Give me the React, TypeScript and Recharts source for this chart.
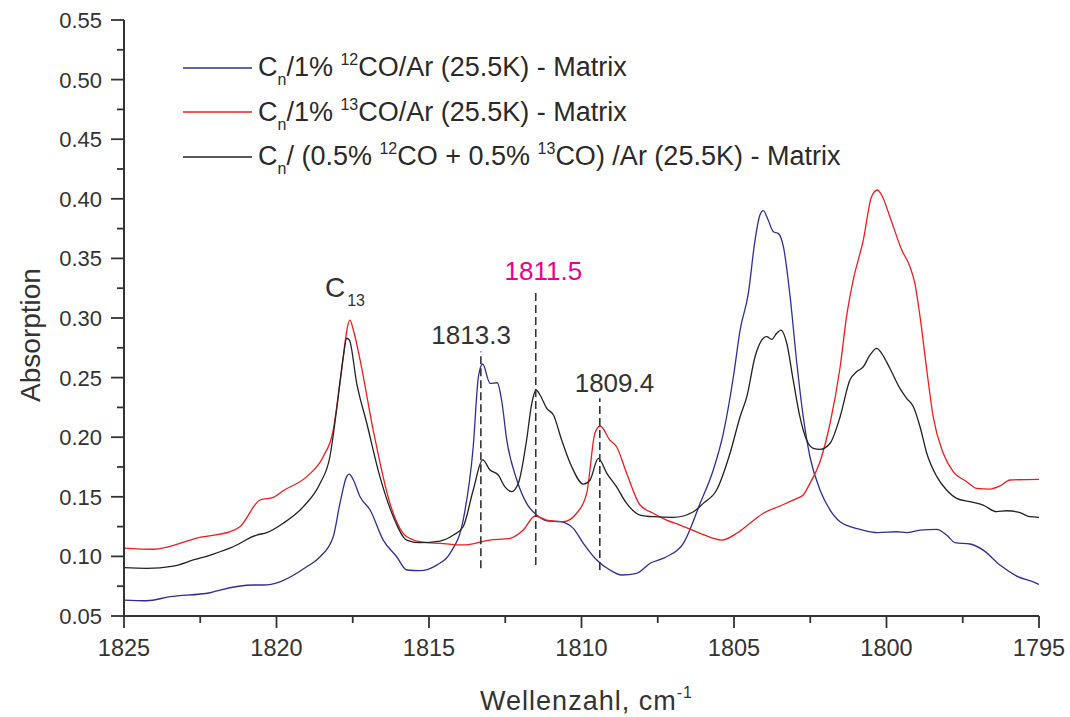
import React from 'react';
import { LineChart, Line, XAxis, YAxis, ReferenceLine, ReferenceDot, Legend, Label } from 'recharts';

const FONT = '"Liberation Sans", Arial, Helvetica, sans-serif';
const INK = '#333333';

// Absorption spectra: [wavenumber (cm^-1), absorbance]
const spectrum12CO: [number, number][] = [
  [1825.0, 0.0634], [1824.26, 0.0628], [1823.49, 0.0662], [1822.18, 0.0695], [1821.85, 0.0718],
  [1820.76, 0.076], [1820.43, 0.076], [1819.89, 0.0787], [1819.01, 0.0913], [1818.57, 0.0997],
  [1818.14, 0.1165], [1817.92, 0.1445], [1817.7, 0.1669], [1817.61, 0.1691], [1817.48, 0.1641],
  [1817.26, 0.15], [1816.93, 0.1389], [1816.5, 0.1137], [1816.06, 0.0997], [1815.73, 0.0886],
  [1815.3, 0.088], [1814.75, 0.0927], [1814.31, 0.1026], [1813.88, 0.1305], [1813.55, 0.192],
  [1813.38, 0.2507], [1813.24, 0.2614], [1813.0, 0.2452], [1812.76, 0.2457], [1812.62, 0.2312],
  [1812.45, 0.1976], [1812.12, 0.1641], [1811.8, 0.1445], [1811.47, 0.1347], [1811.14, 0.1299],
  [1810.7, 0.1291], [1810.27, 0.1235], [1809.94, 0.111], [1809.5, 0.097], [1809.07, 0.0886],
  [1808.68, 0.0844], [1808.19, 0.0858], [1807.75, 0.0942], [1807.21, 0.0997], [1806.66, 0.111],
  [1806.11, 0.1445], [1805.68, 0.1725], [1805.35, 0.2033], [1805.02, 0.2507], [1804.8, 0.2899],
  [1804.53, 0.3207], [1804.31, 0.3654], [1804.15, 0.3864], [1804.04, 0.39], [1803.88, 0.3822],
  [1803.71, 0.3724], [1803.55, 0.371], [1803.38, 0.3598], [1803.16, 0.3179], [1802.94, 0.262],
  [1802.73, 0.2172], [1802.51, 0.1836], [1802.18, 0.1557], [1801.85, 0.1389], [1801.52, 0.1291],
  [1800.87, 0.1227], [1800.27, 0.1199], [1799.67, 0.1207], [1799.34, 0.1199], [1798.9, 0.1221],
  [1798.35, 0.1227], [1798.03, 0.1179], [1797.75, 0.1115], [1797.26, 0.1104], [1796.83, 0.1053],
  [1796.28, 0.0927], [1795.73, 0.0835], [1795.08, 0.0774], [1795.0, 0.0764],
];

const spectrum13CO: [number, number][] = [
  [1825.0, 0.107], [1824.04, 0.106], [1822.51, 0.116], [1821.52, 0.1207], [1821.2, 0.1249],
  [1820.54, 0.1473], [1820.1, 0.1496], [1819.78, 0.1551], [1819.01, 0.1669], [1818.47, 0.1836],
  [1818.14, 0.206], [1817.92, 0.2455], [1817.59, 0.2983], [1817.48, 0.2899], [1817.26, 0.2648],
  [1816.83, 0.206], [1816.28, 0.1445], [1815.73, 0.1165], [1815.08, 0.1115], [1814.64, 0.111],
  [1813.88, 0.1096], [1813.0, 0.1137], [1812.34, 0.1152], [1811.91, 0.1221], [1811.52, 0.1339],
  [1811.14, 0.1305], [1810.6, 0.1291], [1810.16, 0.1362], [1809.83, 0.1529], [1809.56, 0.2033],
  [1809.39, 0.2094], [1809.07, 0.1976], [1808.85, 0.192], [1808.52, 0.1697], [1808.08, 0.1431],
  [1807.65, 0.1362], [1807.21, 0.1305], [1806.77, 0.1263], [1806.11, 0.1194], [1805.4, 0.1137],
  [1804.91, 0.1194], [1804.48, 0.1278], [1804.04, 0.1362], [1803.49, 0.1423], [1802.94, 0.1487],
  [1802.73, 0.1515], [1802.51, 0.1613], [1802.18, 0.1794], [1801.85, 0.2117], [1801.52, 0.2589],
  [1801.31, 0.3011], [1801.09, 0.3319], [1800.76, 0.3654], [1800.49, 0.4018], [1800.3, 0.4074],
  [1800.16, 0.4032], [1799.89, 0.385], [1799.5, 0.357], [1799.23, 0.343], [1799.07, 0.3291],
  [1798.9, 0.3011], [1798.68, 0.2564], [1798.47, 0.2172], [1798.14, 0.1865], [1797.81, 0.171],
  [1797.37, 0.1627], [1797.04, 0.1571], [1796.61, 0.1565], [1796.28, 0.1591], [1795.95, 0.1641],
  [1795.0, 0.1647],
];

const spectrumMixed: [number, number][] = [
  [1825.0, 0.0905], [1824.26, 0.09], [1823.38, 0.0919], [1822.73, 0.097], [1822.07, 0.102],
  [1821.42, 0.1081], [1820.65, 0.1179], [1820.32, 0.1199], [1819.78, 0.1278], [1819.12, 0.1417],
  [1818.57, 0.1613], [1818.25, 0.1836], [1818.03, 0.2228], [1817.81, 0.2675], [1817.7, 0.283],
  [1817.61, 0.2815], [1817.37, 0.2452], [1817.04, 0.2117], [1816.61, 0.1669], [1816.17, 0.1333],
  [1815.73, 0.1137], [1815.3, 0.1115], [1814.64, 0.1129], [1814.2, 0.1179], [1813.88, 0.1249],
  [1813.55, 0.1557], [1813.24, 0.1809], [1813.0, 0.1725], [1812.73, 0.1683], [1812.51, 0.1583],
  [1812.29, 0.1543], [1812.07, 0.1613], [1811.8, 0.1976], [1811.63, 0.2284], [1811.49, 0.2396],
  [1811.36, 0.2354], [1811.14, 0.2242], [1810.92, 0.2186], [1810.65, 0.1976], [1810.32, 0.1752],
  [1809.94, 0.1607], [1809.72, 0.1641], [1809.45, 0.1823], [1809.17, 0.1697], [1808.85, 0.1583],
  [1808.52, 0.1445], [1808.08, 0.1347], [1807.65, 0.1333], [1806.99, 0.1328], [1806.33, 0.1375],
  [1806.01, 0.1445], [1805.57, 0.1557], [1805.13, 0.1865], [1804.8, 0.2172], [1804.58, 0.234],
  [1804.31, 0.2675], [1804.04, 0.283], [1803.93, 0.2843], [1803.76, 0.2821], [1803.6, 0.2872],
  [1803.46, 0.2899], [1803.27, 0.2788], [1803.06, 0.248], [1802.84, 0.2172], [1802.62, 0.1976],
  [1802.4, 0.1907], [1802.18, 0.1898], [1801.85, 0.1949], [1801.52, 0.2172], [1801.2, 0.248],
  [1800.98, 0.2549], [1800.76, 0.2591], [1800.54, 0.269], [1800.32, 0.2746], [1800.16, 0.2704],
  [1799.89, 0.2578], [1799.56, 0.241], [1799.34, 0.2326], [1799.12, 0.2256], [1798.9, 0.2088],
  [1798.68, 0.1865], [1798.35, 0.1669], [1798.03, 0.1557], [1797.7, 0.1487], [1797.26, 0.1459],
  [1796.83, 0.1431], [1796.39, 0.1375], [1796.06, 0.1383], [1795.62, 0.1367], [1795.3, 0.1333],
  [1795.0, 0.1328],
];

const xTicks = [1825, 1822.5, 1820, 1817.5, 1815, 1812.5, 1810, 1807.5, 1805, 1802.5, 1800, 1797.5, 1795];
const yTicks = [0.05, 0.075, 0.1, 0.125, 0.15, 0.175, 0.2, 0.225, 0.25, 0.275, 0.3, 0.325, 0.35, 0.375, 0.4, 0.425, 0.45, 0.475, 0.5, 0.525, 0.55];

const seriesNames = [
  'Cn/1% 12CO/Ar (25.5K) - Matrix',
  'Cn/1% 13CO/Ar (25.5K) - Matrix',
  'Cn/ (0.5% 12CO + 0.5% 13CO) /Ar (25.5K) - Matrix',
];

// Rich legend text: [text, 'sub' | 'sup' | undefined]
const seriesRichNames: [string, string?][][] = [
  [['C'], ['n', 'sub'], ['/1% '], ['12', 'sup'], ['CO/Ar (25.5K) - Matrix']],
  [['C'], ['n', 'sub'], ['/1% '], ['13', 'sup'], ['CO/Ar (25.5K) - Matrix']],
  [['C'], ['n', 'sub'], ['/ (0.5% '], ['12', 'sup'], ['CO + 0.5% '], ['13', 'sup'], ['CO) /Ar (25.5K) - Matrix']],
];

const seriesColors = ['#2e2e9a', '#f01c1c', '#222222'];

// Peak positions marked with dashed guides: [wavenumber, lower absorbance, upper absorbance]
const peakGuides: [number, number, number][] = [
  [1813.3, 0.09, 0.272],
  [1811.5, 0.0927, 0.322],
  [1809.4, 0.0886, 0.2326],
];

// Peak labels: [text, wavenumber, absorbance at baseline, colour]
const peakLabels: [string, number, number, string][] = [
  ['1813.3', 1813.62, 0.2782, INK],
  ['1811.5', 1811.25, 0.3319, '#EC008C'],
  ['1809.4', 1808.92, 0.2381, INK],
];

const toRows = (pts: [number, number][]) => pts.map(([w, a]) => ({ w, a }));

const isMajorX = (v: number) => Math.abs(v % 5) < 1e-6;
const isMajorY = (v: number) => Math.round(v * 1000) % 50 === 0;

const BottomTick = (props: any) => {
  const { x, y, payload } = props;
  const major = isMajorX(payload.value);
  return (
    <g>
      <line x1={x} x2={x} y1={y} y2={y + (major ? 12 : 7)} stroke={INK} strokeWidth={1.8} />
      {major && (
        <text x={x} y={y + 40} textAnchor="middle" fontFamily={FONT} fontSize={23.5} fill={INK}>
          {payload.value}
        </text>
      )}
    </g>
  );
};

const TopTick = (props: any) => {
  const { x, y } = props;
  return <line x1={x} x2={x} y1={y} y2={y + 5} stroke={INK} strokeWidth={1.6} />;
};

const LeftTick = (props: any) => {
  const { x, y, payload } = props;
  const major = isMajorY(payload.value);
  return (
    <g>
      <line x1={x - (major ? 13 : 7)} x2={x} y1={y} y2={y} stroke={INK} strokeWidth={1.8} />
      {major && (
        <text x={x - 22} y={y + 8} textAnchor="end" fontFamily={FONT} fontSize={22} fill={INK}>
          {payload.value.toFixed(2)}
        </text>
      )}
    </g>
  );
};

const RightTick = (props: any) => {
  const { x, y } = props;
  return <line x1={x - 4} x2={x} y1={y} y2={y} stroke={INK} strokeWidth={1.6} />;
};

const XTitle = (props: any) => {
  const vb = props.viewBox || { x: 124, y: 616, width: 915, height: 101 };
  const cx = vb.x + vb.width / 2 + 5;
  const y = vb.y + 94;
  return (
    <text x={cx} y={y} textAnchor="middle" fontFamily={FONT} fontSize={27} fill={INK} letterSpacing={1}>
      Wellenzahl, cm<tspan dy={-12} fontSize={16}>-1</tspan>
    </text>
  );
};

const YTitle = (props: any) => {
  const vb = props.viewBox || { x: 0, y: 20, width: 124, height: 596 };
  const x = vb.x + 40;
  const y = vb.y + vb.height / 2 + 17;
  return (
    <text x={x} y={y} transform={`rotate(-90 ${x} ${y})`} textAnchor="middle" fontFamily={FONT} fontSize={28} fill={INK}>
      Absorption
    </text>
  );
};

const RichText = ({ parts }: { parts: [string, string?][] }) => (
  <>
    {parts.map(([t, kind], i) => {
      if (kind === 'sub') {
        return (
          <span key={i} style={{ fontSize: 16, position: 'relative', top: 9 }}>{t}</span>
        );
      }
      if (kind === 'sup') {
        return (
          <span key={i} style={{ fontSize: 16, position: 'relative', top: -11 }}>{t}</span>
        );
      }
      return <span key={i}>{t}</span>;
    })}
  </>
);

// Legend rows follow series order, each with its own line swatch.
const LegendBox = () => (
  <div style={{ fontFamily: FONT }}>
    {seriesNames.map((name, idx) => (
      <div key={name} style={{ display: 'flex', alignItems: 'center', height: 44.5 }}>
        <svg width={69} height={4} style={{ marginRight: 6, display: 'block' }}>
          <line x1={0} x2={69} y1={2} y2={2} stroke={seriesColors[idx]} strokeWidth={1.5} />
        </svg>
        <span style={{ fontSize: 27, lineHeight: 1, color: '#2a2a2a', whiteSpace: 'nowrap' }}>
          <RichText parts={seriesRichNames[idx]} />
        </span>
      </div>
    ))}
  </div>
);

const spectra = [spectrum12CO, spectrum13CO, spectrumMixed];

export default function App() {
  return (
    <div style={{ position: 'absolute', left: 0, top: 0, width: 1070, height: 717, background: '#ffffff' }}>
      <LineChart width={1070} height={717} margin={{ top: 20, right: 31, bottom: 0, left: 0 }}>
        <XAxis
          xAxisId="main"
          type="number"
          dataKey="w"
          domain={[1795, 1825]}
          reversed
          allowDataOverflow
          ticks={xTicks}
          interval={0}
          height={101}
          tickSize={0}
          tickMargin={0}
          tickLine={false}
          axisLine={{ stroke: INK, strokeWidth: 2 }}
          tick={<BottomTick />}
        >
          <Label content={<XTitle />} />
        </XAxis>
        <XAxis
          xAxisId="top"
          orientation="top"
          type="number"
          dataKey="w"
          domain={[1795, 1825]}
          reversed
          allowDataOverflow
          ticks={xTicks}
          interval={0}
          height={0}
          tickSize={0}
          tickMargin={0}
          tickLine={false}
          axisLine={{ stroke: INK, strokeWidth: 2 }}
          tick={<TopTick />}
        />
        <YAxis
          yAxisId="main"
          type="number"
          domain={[0.05, 0.55]}
          allowDataOverflow
          ticks={yTicks}
          interval={0}
          width={124}
          tickSize={0}
          tickMargin={0}
          tickLine={false}
          axisLine={{ stroke: INK, strokeWidth: 2 }}
          tick={<LeftTick />}
        >
          <Label content={<YTitle />} />
        </YAxis>
        <YAxis
          yAxisId="right"
          orientation="right"
          type="number"
          domain={[0.05, 0.55]}
          allowDataOverflow
          ticks={yTicks}
          interval={0}
          width={0}
          tickSize={0}
          tickMargin={0}
          tickLine={false}
          axisLine={{ stroke: INK, strokeWidth: 2 }}
          tick={<RightTick />}
        />

        {spectra.map((pts, i) => (
          <Line
            key={seriesNames[i]}
            xAxisId="main"
            yAxisId="main"
            data={toRows(pts)}
            dataKey="a"
            name={seriesNames[i]}
            type="monotone"
            stroke={seriesColors[i]}
            strokeWidth={1.3}
            dot={false}
            activeDot={false}
            isAnimationActive={false}
          />
        ))}

        {peakGuides.map(([w, lo, hi]) => (
          <ReferenceLine
            key={`guide-${w}`}
            xAxisId="main"
            yAxisId="main"
            segment={[{ x: w, y: lo }, { x: w, y: hi }]}
            stroke={INK}
            strokeWidth={1.6}
            strokeDasharray="8 4"
          />
        ))}

        {peakLabels.map(([text, w, a, color]) => (
          <ReferenceDot
            key={`label-${text}`}
            xAxisId="main"
            yAxisId="main"
            x={w}
            y={a}
            r={1}
            shape={(p: any) => (
              <text x={p.cx} y={p.cy} textAnchor="middle" fontFamily={FONT} fontSize={26} fill={color}>
                {text}
              </text>
            )}
          />
        ))}

        <ReferenceDot
          xAxisId="main"
          yAxisId="main"
          x={1818.41}
          y={0.3178}
          r={1}
          shape={(p: any) => (
            <text x={p.cx} y={p.cy} textAnchor="start" fontFamily={FONT} fontSize={28} fill={INK}>
              C<tspan dx={2} dy={9} fontSize={16}>13</tspan>
            </text>
          )}
        />

        <Legend
          layout="horizontal"
          verticalAlign="middle"
          align="center"
          wrapperStyle={{ left: 183, top: 45.5, width: 700 }}
          content={<LegendBox />}
        />
      </LineChart>
    </div>
  );
}
